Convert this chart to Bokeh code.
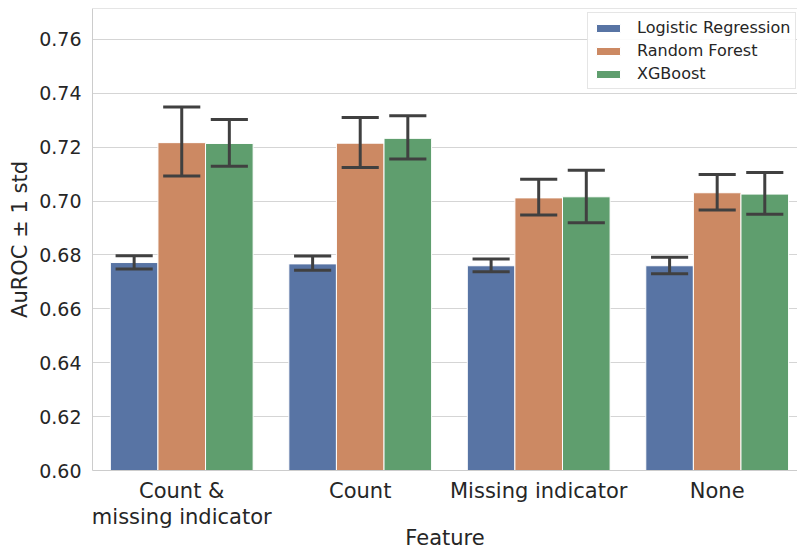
from bokeh.plotting import figure
from bokeh.models import (ColumnDataSource, Range1d, FixedTicker, NumeralTickFormatter,
                          Legend, LegendItem, Span)
from bokeh.embed import file_html
from bokeh.resources import INLINE

features = ["Count &\nmissing indicator", "Count", "Missing indicator", "None"]
models = ["Logistic Regression", "Random Forest", "XGBoost"]

lr_mean = [0.6772, 0.6767, 0.6760, 0.6760]
lr_lo = [0.6748, 0.6743, 0.6738, 0.6730]
lr_hi = [0.6797, 0.6796, 0.6785, 0.6792]

rf_mean = [0.7217, 0.7215, 0.7012, 0.7031]
rf_lo = [0.7093, 0.7125, 0.6948, 0.6967]
rf_hi = [0.7349, 0.7310, 0.7081, 0.7099]

xgb_mean = [0.7214, 0.7233, 0.7016, 0.7026]
xgb_lo = [0.7129, 0.7156, 0.6920, 0.6951]
xgb_hi = [0.7303, 0.7317, 0.7115, 0.7106]

y_ticks = [0.60, 0.62, 0.64, 0.66, 0.68, 0.70, 0.72, 0.74, 0.76]
x_label = "Feature"
y_label = "AuROC ± 1 std"

colors = ["#5874a4", "#cc8963", "#5f9e6e"]
FONT = "DejaVu Sans"

p = figure(width=797, height=552, output_backend="svg", toolbar_location=None,
           x_range=Range1d(-0.5, 3.45), y_range=Range1d(0.60, 0.7715),
           min_border_left=92, min_border_right=0, min_border_top=8, min_border_bottom=81)
p.outline_line_color = None
p.background_fill_color = "white"
p.border_fill_color = "white"

bw = 0.8 / 3
series = [(lr_mean, lr_lo, lr_hi), (rf_mean, rf_lo, rf_hi), (xgb_mean, xgb_lo, xgb_hi)]
items = []
for i, (m, lo, hi) in enumerate(series):
    off = (i - 1) * bw
    xs = [k + off for k in range(len(features))]
    src = ColumnDataSource(dict(x=xs, top=m, lo=lo, hi=hi,
                                cl=[x - 0.104 for x in xs], cr=[x + 0.104 for x in xs]))
    r = p.vbar(x="x", top="top", bottom=0.5, width=bw, source=src,
               fill_color=colors[i], line_color="white", line_width=1)
    items.append(LegendItem(label=models[i], renderers=[r]))
    p.segment(x0="x", y0="lo", x1="x", y1="hi", source=src, line_color="#404040", line_width=3)
    p.segment(x0="cl", y0="lo", x1="cr", y1="lo", source=src, line_color="#404040", line_width=3)
    p.segment(x0="cl", y0="hi", x1="cr", y1="hi", source=src, line_color="#404040", line_width=3)

p.add_layout(Span(location=0.7715, dimension="width", line_color="#cccccc", line_width=1))

p.xgrid.visible = False
p.ygrid.grid_line_color = "#d5d5d5"
p.ygrid.grid_line_width = 1
p.yaxis.ticker = FixedTicker(ticks=y_ticks)
p.yaxis.formatter = NumeralTickFormatter(format="0.00")
p.xaxis.ticker = FixedTicker(ticks=list(range(len(features))))
p.xaxis.major_label_overrides = {i: f for i, f in enumerate(features)}

for ax in (p.xaxis, p.yaxis):
    ax.axis_line_color = "#cccccc"
    ax.major_tick_line_color = None
    ax.minor_tick_line_color = None
    ax.major_tick_out = 0
    ax.major_tick_in = 0
    ax.major_label_text_font = FONT
    ax.major_label_text_color = "#262626"
    ax.axis_label_text_font = FONT
    ax.axis_label_text_font_size = "21px"
    ax.axis_label_text_font_style = "normal"
    ax.axis_label_text_color = "#262626"
p.xaxis.major_label_text_font_size = "21px"
p.xaxis.major_label_text_line_height = 1.1
p.yaxis.major_label_text_font_size = "19px"
p.yaxis.major_label_standoff = 11
p.xaxis.major_label_standoff = 8
p.xaxis.axis_label = x_label
p.xaxis.axis_label_standoff = -6
p.yaxis.axis_label = y_label
p.yaxis.axis_label_standoff = 4

legend = Legend(items=items, location=(495, 381))
legend.label_text_font = FONT
legend.label_text_font_size = "16px"
legend.label_text_color = "#262626"
legend.glyph_width = 30
legend.glyph_height = 10
legend.label_standoff = 14
legend.label_height = 19
legend.spacing = 4
legend.padding = 5
legend.margin = 0
legend.border_line_color = "#cccccc"
legend.background_fill_alpha = 0.9
p.add_layout(legend)

open("out.html", "w").write(file_html(p, INLINE))
